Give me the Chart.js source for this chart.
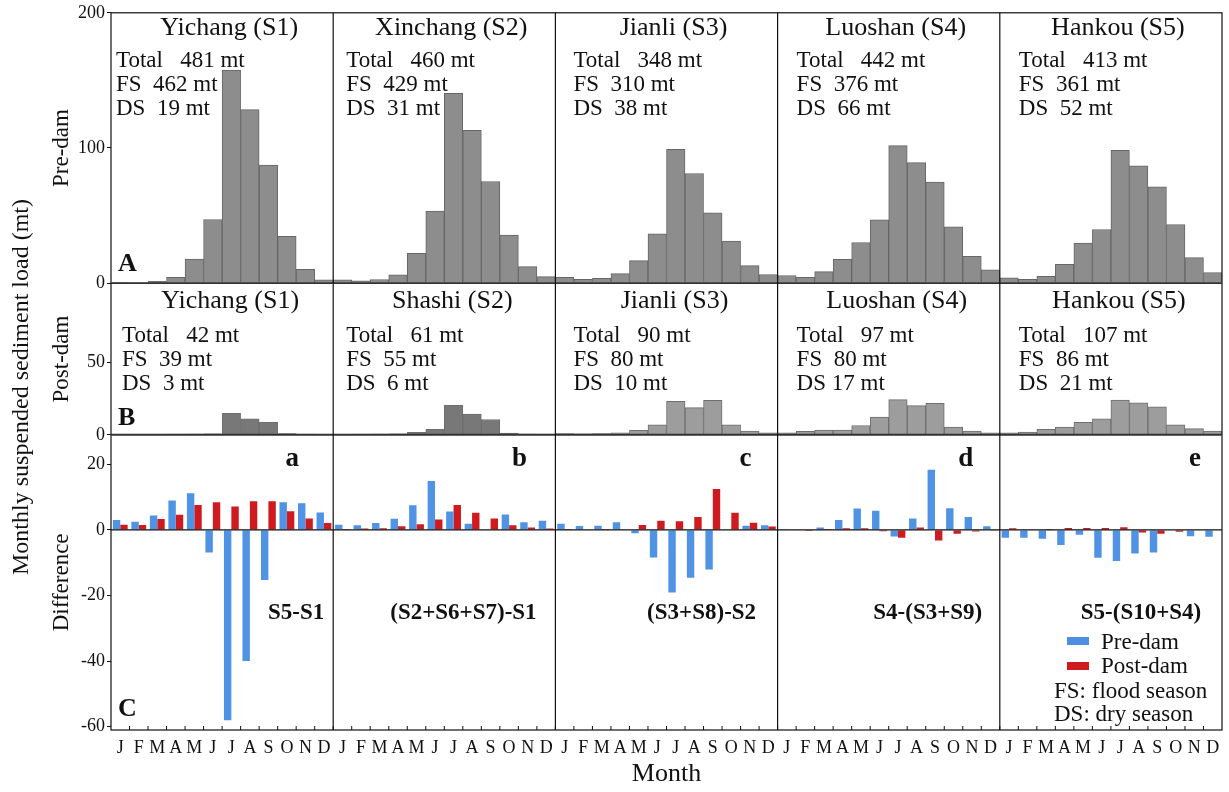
<!DOCTYPE html>
<html>
<head>
<meta charset="utf-8">
<script src="https://cdn.jsdelivr.net/npm/chart.js@4.4.0/dist/chart.umd.min.js"></script>
<style>
  html, body { margin: 0; padding: 0; background: #fff; }
  #wrap { width: 1229px; height: 792px; }
</style>
</head>
<body>
<div id="wrap"><canvas id="myChart" width="1229" height="792"></canvas></div>
<script>
const months = ['J', 'F', 'M', 'A', 'M', 'J', 'J', 'A', 'S', 'O', 'N', 'D'];

// row A, pre-dam monthly load (mt)
const preYichang  = [0.5, 0.3, 1.3, 4.4, 17.9, 47.1, 157.6, 128.4, 87.3, 34.6, 10.3, 2.4];
const preXinchang = [2.4, 1.7, 2.7, 6.1, 22.1, 53.4, 140.4, 113.0, 75.2, 35.5, 12.3, 4.9];
const preJianli   = [4.4, 2.9, 3.5, 7.1, 16.7, 36.5, 99.0, 81.1, 52.0, 31.1, 13.0, 6.4];
const preLuoshan  = [5.7, 4.4, 8.6, 17.6, 30.1, 46.8, 101.7, 89.2, 74.8, 41.7, 19.9, 9.8];
const preHankou   = [3.9, 2.9, 5.1, 14.0, 29.6, 39.7, 98.3, 86.8, 71.3, 43.4, 18.9, 7.9];

// row B, post-dam monthly load (mt)
const postYichang = [0.3, 0.2, 0.3, 0.4, 0.5, 0.7, 14.8, 11.1, 8.6, 0.8, 0.4, 0.3];
const postShashi  = [0.3, 0.4, 0.5, 0.7, 1.7, 3.7, 20.4, 14.3, 10.6, 1.2, 0.5, 0.4];
const postJianli  = [0.8, 0.6, 0.8, 1.4, 3.0, 6.9, 23.2, 18.8, 23.9, 6.9, 2.5, 1.3];
const postLuoshan = [1.3, 2.3, 3.3, 3.3, 6.4, 12.3, 24.3, 20.2, 21.7, 5.4, 2.6, 1.3];
const postHankou  = [1.3, 1.8, 3.8, 5.4, 8.7, 11.0, 24.0, 22.2, 19.4, 6.9, 4.3, 2.6];

// row C, differences between stations
const diffPreA  = [3.0, 2.5, 4.4, 9.0, 11.2, -6.9, -58.0, -40.0, -15.3, 8.4, 8.1, 5.3];
const diffPostA = [1.6, 1.5, 3.3, 4.6, 7.6, 8.4, 7.1, 8.7, 8.7, 5.7, 3.5, 2.1];
const diffPreB  = [1.6, 1.4, 2.1, 3.4, 7.5, 14.9, 5.6, 1.9, 0, 4.7, 2.3, 2.8];
const diffPostB = [0.3, 0.4, 0.5, 1.1, 1.7, 3.2, 7.6, 5.2, 3.5, 1.4, 0.7, 0.4];
const diffPreC  = [1.9, 1.2, 1.3, 2.3, -1.0, -8.4, -19.1, -14.6, -12.1, -0.2, 1.3, 1.4];
const diffPostC = [0.3, 0, 0.3, 0, 1.5, 2.8, 2.6, 3.9, 12.5, 5.2, 2.2, 1.0];
const diffPreD  = [0.2, 0, 0.7, 3.0, 6.5, 5.8, -2.0, 3.5, 18.3, 6.6, 3.9, 1.1];
const diffPostD = [0, -0.3, 0.3, 0.5, 0.5, -0.4, -2.4, 0.7, -3.2, -1.2, -0.5, -0.1];
const diffPreE  = [-2.4, -2.4, -2.7, -4.6, -1.5, -8.5, -9.5, -7.2, -6.9, 0, -1.9, -2.1];
const diffPostE = [0.5, 0.1, 0.3, 0.6, 0.6, 0.6, 0.8, -0.8, -1.2, -0.6, 0, 0];

// panel texts
const preStations  = ['Yichang (S1)', 'Xinchang (S2)', 'Jianli (S3)', 'Luoshan (S4)', 'Hankou (S5)'];
const postStations = ['Yichang (S1)', 'Shashi (S2)', 'Jianli (S3)', 'Luoshan (S4)', 'Hankou (S5)'];
const preTotal  = [481, 460, 348, 442, 413];
const preFS     = [462, 429, 310, 376, 361];
const preDS     = [19, 31, 38, 66, 52];
const postTotal = [42, 61, 90, 97, 107];
const postFS    = [39, 55, 80, 80, 86];
const postDS    = [3, 6, 10, 17, 21];
const diffNames   = ['S5-S1', '(S2+S6+S7)-S1', '(S3+S8)-S2', 'S4-(S3+S9)', 'S5-(S10+S4)'];
const diffLetters = ['a', 'b', 'c', 'd', 'e'];

const xLabels = [].concat(months, months, months, months, months);
const preAll  = [].concat(preYichang, preXinchang, preJianli, preLuoshan, preHankou);
const postAll = [].concat(postYichang, postShashi, postJianli, postLuoshan, postHankou);
const diffPre  = [].concat(diffPreA, diffPreB, diffPreC, diffPreD, diffPreE);
const diffPost = [].concat(diffPostA, diffPostB, diffPostC, diffPostD, diffPostE);

const SERIF = '"Liberation Serif", "Times New Roman", serif';
Chart.defaults.font.family = SERIF;
Chart.defaults.color = '#111';

const font = (size, bold) => (bold ? 'bold ' : '') + size + 'px ' + SERIF;

const panelDecor = {
  id: 'panelDecor',
  afterDatasetsDraw(chart) {
    const {ctx, chartArea: area} = chart;
    const {x, yA, yB, yC} = chart.scales;
    const edge = p => x.getPixelForValue(p * 12 - 0.5);
    const hline = (x1, x2, y) => { ctx.beginPath(); ctx.moveTo(x1, y); ctx.lineTo(x2, y); ctx.stroke(); };
    const vline = (xx, y1, y2) => { ctx.beginPath(); ctx.moveTo(xx, y1); ctx.lineTo(xx, y2); ctx.stroke(); };

    ctx.save();
    ctx.strokeStyle = '#111';

    // zero line of the difference row
    ctx.lineWidth = 1.3;
    hline(area.left, area.right, yC.getPixelForValue(0));

    // frame, row and column separators
    ctx.lineWidth = 1.2;
    ctx.strokeRect(area.left, area.top, area.width, area.height);
    ctx.lineWidth = 1.8;
    ctx.strokeStyle = '#333';
    hline(area.left, area.right, yA.bottom);
    hline(area.left, area.right, yB.bottom);
    ctx.strokeStyle = '#111';
    ctx.lineWidth = 1.2;
    for (let p = 1; p < 5; p++) vline(edge(p), area.top, area.bottom);

    // small inward month ticks
    ctx.lineWidth = 1;
    for (let i = 0; i < 59; i++) {
      const px = x.getPixelForValue(i + 0.5);
      vline(px, area.bottom, area.bottom - 4);
    }

    ctx.fillStyle = '#111';
    ctx.textBaseline = 'alphabetic';
    const statX = [5, 13, 18, 19, 19];
    const statXB = [11, 13, 18, 19, 19];
    for (let p = 0; p < 5; p++) {
      const l = edge(p), r = edge(p + 1), c = (l + r) / 2;
      // row A
      ctx.textAlign = 'center';
      ctx.font = font(26);
      ctx.fillText(preStations[p], c + 7, yA.top + 22);
      ctx.textAlign = 'left';
      ctx.font = font(23);
      ctx.fillText('Total   ' + preTotal[p] + ' mt', l + statX[p], yA.top + 54);
      ctx.fillText('FS  ' + preFS[p] + ' mt', l + statX[p], yA.top + 78);
      ctx.fillText('DS  ' + preDS[p] + ' mt', l + statX[p], yA.top + 102);
      // row B
      ctx.textAlign = 'center';
      ctx.font = font(26);
      ctx.fillText(postStations[p], c + 8, yB.top + 25);
      ctx.textAlign = 'left';
      ctx.font = font(23);
      ctx.fillText('Total   ' + postTotal[p] + ' mt', l + statXB[p], yB.top + 59);
      ctx.fillText('FS  ' + postFS[p] + ' mt', l + statXB[p], yB.top + 83);
      ctx.fillText((p === 3 ? 'DS ' : 'DS  ') + postDS[p] + ' mt', l + statXB[p], yB.top + 107);
    }

    // row C letters and station formulas
    const letterOff = [41, 36, 32, 34, 27];
    const nameOff = [37, 92, 76, 72, 81];
    ctx.textAlign = 'center';
    for (let p = 0; p < 5; p++) {
      const r = edge(p + 1);
      ctx.font = font(27, true);
      ctx.fillText(diffLetters[p], r - letterOff[p], yC.top + 31);
      ctx.font = font(23, true);
      ctx.fillText(diffNames[p], r - nameOff[p], 619);
    }

    // row letters
    ctx.textAlign = 'left';
    ctx.font = font(26, true);
    ctx.fillText('A', area.left + 7, yA.bottom - 12);
    ctx.fillText('B', area.left + 7, yB.bottom - 10);
    ctx.fillText('C', area.left + 7, area.bottom - 14);

    // legend
    ctx.fillStyle = '#4d8fe3';
    ctx.fillRect(1067, 637, 22, 8);
    ctx.fillStyle = '#cf1b20';
    ctx.fillRect(1067, 662, 22, 8);
    ctx.fillStyle = '#111';
    ctx.font = font(23);
    ctx.fillText('Pre-dam', 1101, 649);
    ctx.fillText('Post-dam', 1101, 673);
    ctx.fillText('FS: flood season', 1054, 698);
    ctx.fillText('DS: dry season', 1054, 721);

    // overall y label
    ctx.save();
    ctx.translate(22, 387);
    ctx.rotate(-Math.PI / 2);
    ctx.textAlign = 'center';
    ctx.textBaseline = 'middle';
    ctx.font = font(24);
    ctx.fillText('Monthly suspended sediment load (mt)', 0, 0);
    ctx.restore();

    ctx.restore();
  }
};

const yCommon = (title, weight) => ({
  type: 'linear',
  position: 'left',
  stack: 'rows',
  stackWeight: weight,
  offset: false,
  grid: { display: true, drawOnChartArea: false, drawTicks: true, tickLength: 4, color: '#111' },
  border: { display: false },
  title: { display: true, text: title, font: { size: 23 }, padding: { top: 48, bottom: 0 }, color: '#111' },
  afterFit: s => { s.width = 111; }
});

const yTicks = step => ({ font: { size: 18 }, padding: 2, includeBounds: false, stepSize: step, color: '#111' });

new Chart(document.getElementById('myChart'), {
  type: 'bar',
  data: {
    labels: xLabels,
    datasets: [
      {
        label: 'Pre-dam load',
        data: preAll,
        yAxisID: 'yA',
        grouped: false,
        categoryPercentage: 1,
        barPercentage: 1,
        backgroundColor: '#8d8d8d',
        borderColor: '#666',
        borderWidth: 1
      },
      {
        label: 'Post-dam load',
        data: postAll,
        yAxisID: 'yB',
        grouped: false,
        categoryPercentage: 1,
        barPercentage: 1,
        backgroundColor: c => c.dataIndex < 24 ? '#787878' : '#9d9d9d',
        borderColor: '#6e6e6e',
        borderWidth: 1
      },
      {
        label: 'Pre-dam',
        data: diffPre,
        yAxisID: 'yC',
        categoryPercentage: 0.8,
        barPercentage: 1,
        backgroundColor: '#5092e4',
        borderWidth: 0
      },
      {
        label: 'Post-dam',
        data: diffPost,
        yAxisID: 'yC',
        categoryPercentage: 0.8,
        barPercentage: 1,
        backgroundColor: '#cf1b20',
        borderWidth: 0
      }
    ]
  },
  options: {
    responsive: false,
    animation: false,
    layout: { padding: { top: 8, right: 7, left: 0, bottom: 0 } },
    plugins: { legend: { display: false }, tooltip: { enabled: false } },
    scales: {
      x: {
        type: 'category',
        grid: { display: false, drawTicks: false },
        border: { display: false },
        ticks: { autoSkip: false, maxRotation: 0, minRotation: 0, padding: 7, font: { size: 18 }, color: '#111' },
        title: { display: true, text: 'Month', font: { size: 26 }, padding: { top: 0, bottom: 2 }, color: '#111' },
        afterFit: s => { s.height = 62; }
      },
      yC: Object.assign(yCommon('Difference', 297), { min: -61, max: 29, ticks: yTicks(20) }),
      yB: Object.assign(yCommon('Post-dam', 152.5), {
        min: 0, max: 105,
        ticks: yTicks(50),
        afterBuildTicks: s => { s.ticks = s.ticks.filter(t => t.value <= 50); }
      }),
      yA: Object.assign(yCommon('Pre-dam', 272), { min: 0, max: 200, ticks: yTicks(100) })
    }
  },
  plugins: [panelDecor]
});
</script>
</body>
</html>
